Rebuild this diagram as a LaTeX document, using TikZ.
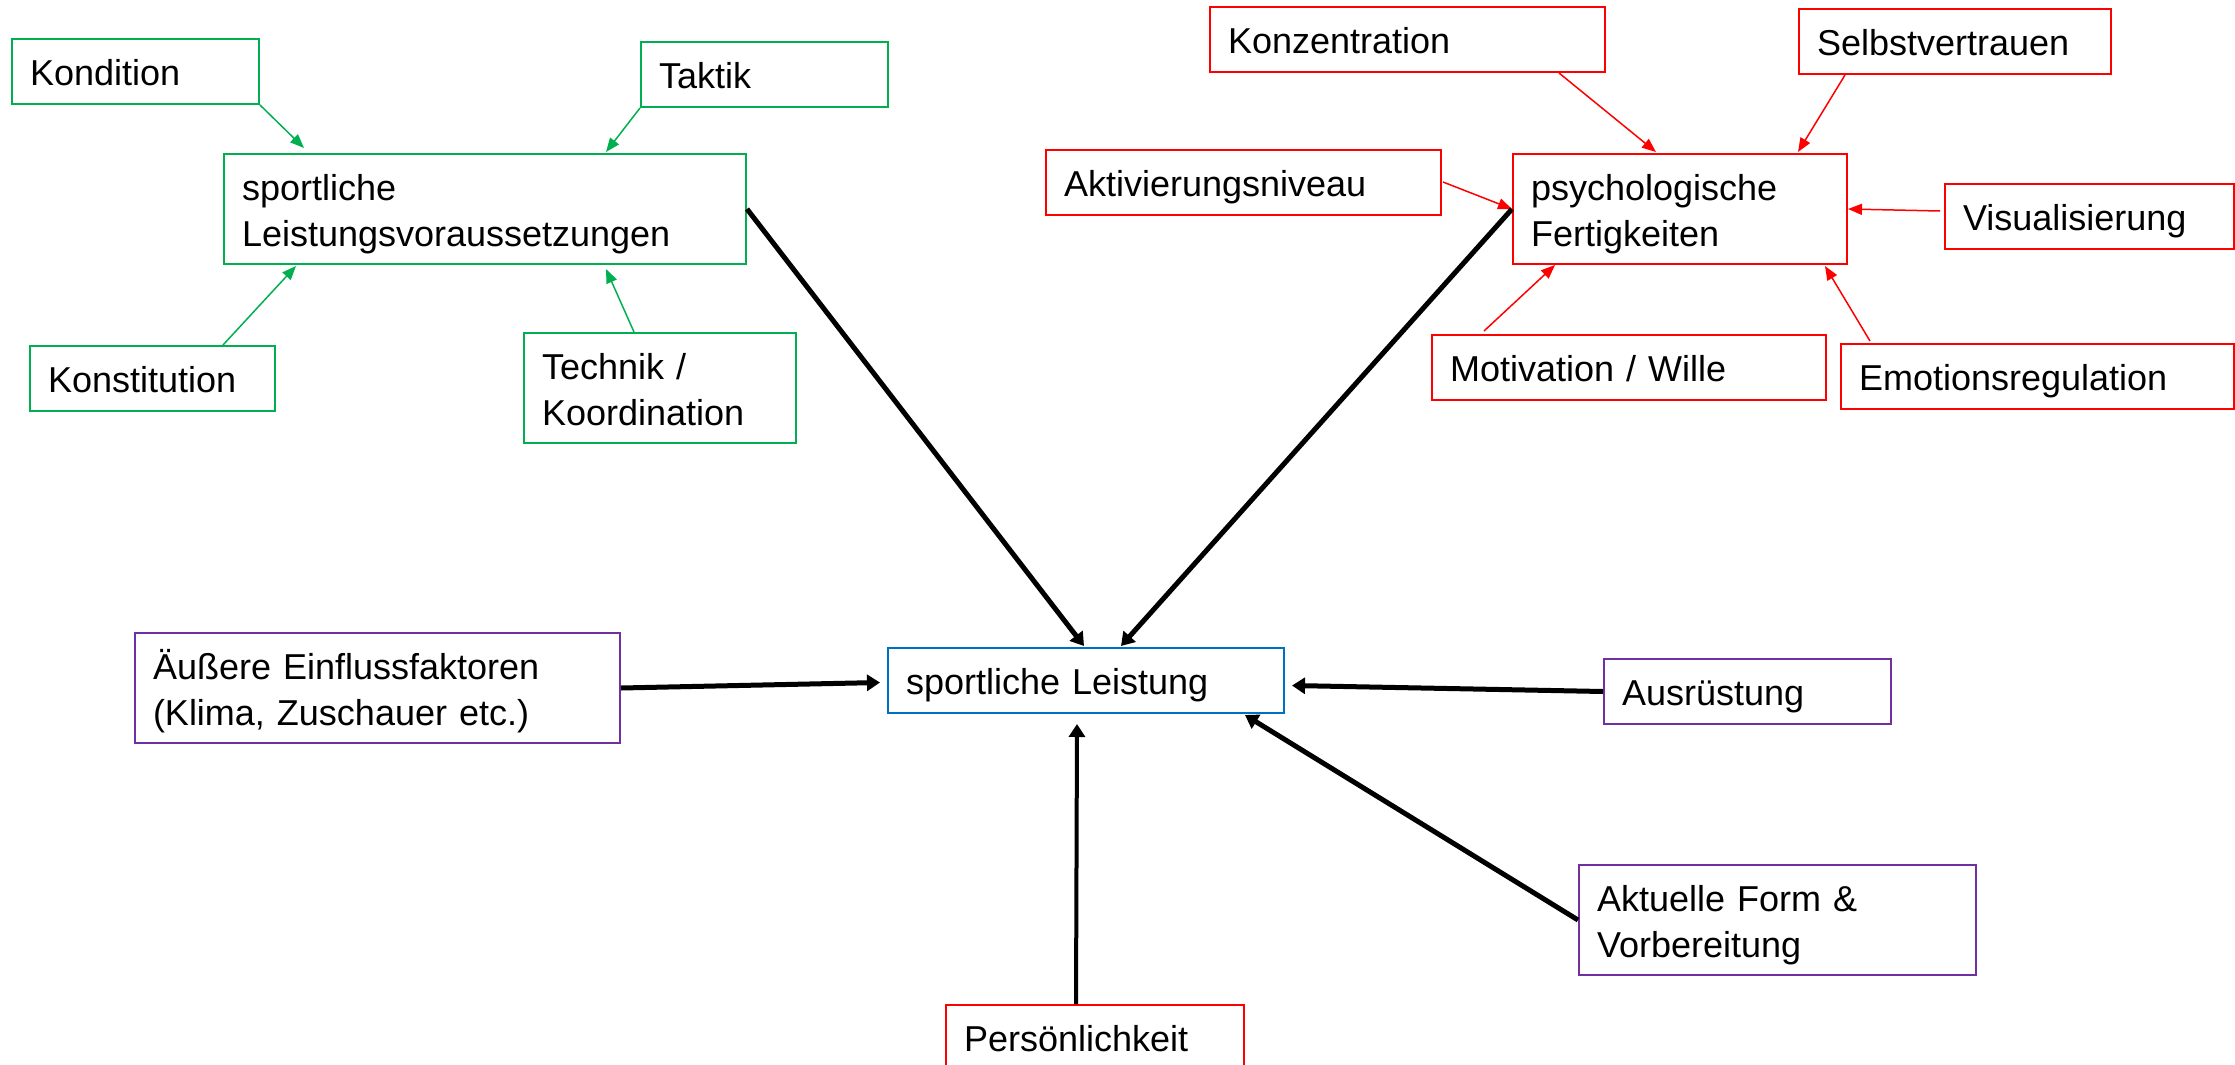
\documentclass[tikz,border=0pt]{standalone}
\usepackage{fontspec}
\setmainfont{Liberation Sans}
\usetikzlibrary{arrows.meta,calc}
\definecolor{cgreen}{RGB}{0,176,80}
\definecolor{cred}{RGB}{255,0,0}
\definecolor{cpurple}{RGB}{112,48,160}
\definecolor{cblue}{RGB}{0,112,192}
\begin{document}
\begin{tikzpicture}[x=1pt,y=-1pt,
  bx/.style={draw, line width=2pt, fill=white, anchor=north west, inner xsep=18pt, inner ysep=0pt,
    align=left, font=\fontsize{36pt}{46pt}\selectfont, text height=31pt},
  one/.style={text depth=3pt, minimum height=65pt},
  two/.style={text depth=49pt, minimum height=110pt},
  gbox/.style={bx, draw=cgreen},
  rbox/.style={bx, draw=cred},
  pbox/.style={bx, draw=cpurple},
  bbox/.style={bx, draw=cblue},
  thinarrow/.style={line width=1.5pt, -{Triangle[length=14pt,width=11pt]}},
  thickarrow/.style={line width=5pt, -{Triangle[length=13pt,width=16pt]}},
]
\useasboundingbox (0,0) rectangle (2235,1065);
\clip (0,0) rectangle (2235,1065);

% green group
\node[gbox,one,minimum width=247pt,text width=211pt] (kond) at (11,38) {Kondition};
\node[gbox,one,minimum width=247pt,text width=211pt] (takt) at (640,41) {Taktik};
\node[gbox,two,minimum width=522pt,text width=486pt] (slv) at (223,153) {sportliche\\Leistungsvoraussetzungen};
\node[gbox,one,minimum width=245pt,text width=209pt] (konst) at (29,345) {Konstitution};
\node[gbox,two,minimum width=272pt,text width=236pt] (tech) at (523,332) {Technik /\\Koordination};

% red group
\node[rbox,one,minimum width=395pt,text width=359pt] (konz) at (1209,6) {Konzentration};
\node[rbox,one,minimum width=312pt,text width=276pt] (selbst) at (1798,8) {Selbstvertrauen};
\node[rbox,one,minimum width=395pt,text width=359pt] (aktiv) at (1045,149) {Aktivierungsniveau};
\node[rbox,two,minimum width=334pt,text width=298pt] (pf) at (1512,153) {psychologische\\Fertigkeiten};
\node[rbox,one,minimum width=289pt,text width=253pt] (visual) at (1944,183) {Visualisierung};
\node[rbox,one,minimum width=394pt,text width=358pt] (motiv) at (1431,334) {Motivation / Wille};
\node[rbox,one,minimum width=393pt,text width=357pt] (emot) at (1840,343) {Emotionsregulation};

% centre and others
\node[bbox,one,minimum width=396pt,text width=360pt] (sl) at (887,647) {sportliche Leistung};
\node[pbox,two,minimum width=485pt,text width=449pt] (aeuss) at (134,632) {Äußere Einflussfaktoren\\(Klima, Zuschauer etc.)};
\node[pbox,one,minimum width=287pt,text width=251pt] (ausr) at (1603,658) {Ausrüstung};
\node[pbox,two,minimum width=397pt,text width=361pt] (akt) at (1578,864) {Aktuelle Form \&\\Vorbereitung};
\node[rbox,one,minimum width=298pt,text width=262pt] (pers) at (945,1004) {Persönlichkeit};

% green connectors
\draw[thinarrow,cgreen] (kond.south east) -- ($(slv.north west)+(81,-5)$);
\draw[thinarrow,cgreen] (takt.south west) -- ($(slv.north west)+(383,-1)$);
\draw[thinarrow,cgreen] ($(konst.north west)+(194,0)$) -- ($(slv.south west)+(73,1)$);
\draw[thinarrow,cgreen] ($(tech.north west)+(111,0)$) -- ($(slv.south west)+(383,4)$);

% red connectors
\draw[thinarrow,cred] ($(konz.south west)+(350,0)$) -- ($(pf.north west)+(144,-1)$);
\draw[thinarrow,cred] ($(selbst.south west)+(47,0)$) -- ($(pf.north west)+(286,-1)$);
\draw[thinarrow,cred] ($(aktiv.north east)+(1,33)$) -- (pf.west);
\draw[thinarrow,cred] ($(visual.north west)+(-4,28)$) -- (pf.east);
\draw[thinarrow,cred] ($(motiv.north west)+(53,-3)$) -- ($(pf.south west)+(43,0)$);
\draw[thinarrow,cred] ($(emot.north west)+(30,-2)$) -- ($(pf.south west)+(313,1)$);

% black connectors
\draw[thickarrow] (slv.east) -- ($(sl.north west)+(197,-1)$);
\draw[thickarrow] (pf.west) -- ($(sl.north west)+(234,-1)$);
\draw[thickarrow] (aeuss.east) -- ($(sl.west)+(-7,2)$);
\draw[thickarrow] (ausr.west) -- ($(sl.east)+(7,5)$);
\draw[thickarrow] (akt.west) -- ($(sl.south east)+(-40,1)$);
\draw[thickarrow,line width=4pt] ($(pers.north west)+(131,0)$) -- ($(sl.south west)+(190,10)$);
\end{tikzpicture}
\end{document}
